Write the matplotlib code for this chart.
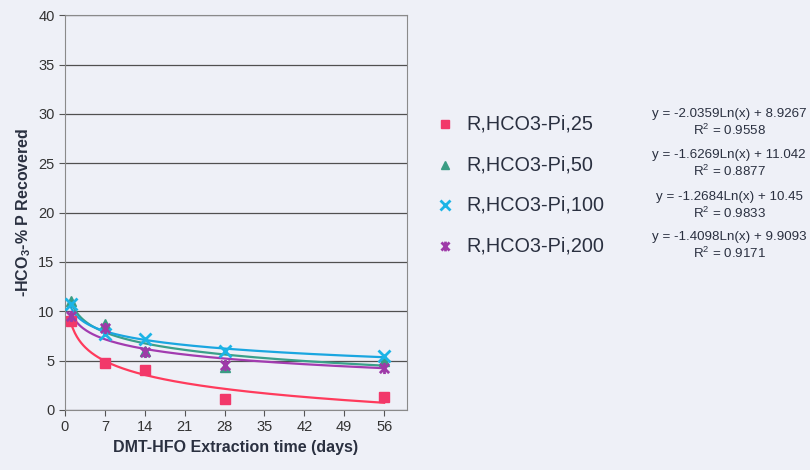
import numpy as np
import matplotlib.pyplot as plt
from matplotlib.lines import Line2D
from matplotlib.path import Path

plt.rcParams['font.family'] = ['Liberation Sans', 'DejaVu Sans']
plt.rcParams['mathtext.fontset'] = 'custom'
plt.rcParams['mathtext.rm'] = 'Liberation Sans'
plt.rcParams['mathtext.bf'] = 'Liberation Sans:bold'

# Extraktionszeit (Tage) und wiedergefundenes P (%)
days = [1, 7, 14, 28, 56]
p25 = [9.0, 4.8, 4.1, 1.1, 1.3]
p50 = [11.0, 8.7, 6.0, 4.4, 5.0]
p100 = [10.7, 7.7, 7.2, 6.0, 5.5]
p200 = [9.5, 8.3, 5.9, 4.6, 4.3]

labels = ['R,HCO3-Pi,25', 'R,HCO3-Pi,50', 'R,HCO3-Pi,100', 'R,HCO3-Pi,200']

# log. Trendlinien: y = a*ln(x) + b
slope = [-2.0359, -1.6269, -1.2684, -1.4098]
intercept = [8.9267, 11.042, 10.45, 9.9093]
r2 = ['0.9558', '0.8877', '0.9833', '0.9171']
eq_text = ['-2.0359Ln(x) + 8.9267', '-1.6269Ln(x) + 11.042',
           '-1.2684Ln(x) + 10.45', '-1.4098Ln(x) + 9.9093']

# Stern-Marker (x mit senkrechtem Strich)
star = Path([(-1, -1), (1, 1), (-1, 1), (1, -1), (0, -1.2), (0, 1.2)],
            [Path.MOVETO, Path.LINETO, Path.MOVETO, Path.LINETO, Path.MOVETO, Path.LINETO])

series = [p25, p50, p100, p200]
colors = ['#f2386a', '#3a9c84', '#1cb4e6', '#9e3aa8']
line_colors = ['#ff3b5c', '#3aa08a', '#1aa6e0', '#a23cb0']
markers = ['s', '^', 'x', star]
msizes = [7, 7, 8, 8]

bg = '#eef0f7'
txt = '#2a3040'
fig = plt.figure(figsize=(8.1, 4.7), dpi=100, facecolor=bg)
ax = fig.add_axes([0.0802, 0.1277, 0.4222, 0.840], facecolor=bg)

xfit = np.linspace(1, 56, 300)
for i in range(4):
    ax.plot(xfit, slope[i] * np.log(xfit) + intercept[i], color=line_colors[i], lw=1.6, zorder=2)
for i in range(4):
    ax.plot(days, series[i], ls='none', marker=markers[i], ms=msizes[i],
            color=colors[i], mec=colors[i], mew=2 if i >= 2 else 1, zorder=3)

ax.set_xlim(0, 60)
ax.set_ylim(0, 40)
ax.set_xticks(range(0, 57, 7))
ax.set_yticks(range(0, 41, 5))
ax.yaxis.grid(True, color='#505050', lw=0.9)
ax.set_axisbelow(True)
for s in ax.spines.values():
    s.set_color('#8a8a8a')
ax.tick_params(colors='#555555', labelcolor='#333333', labelsize=10.5, length=4)
ax.set_xlabel('DMT-HFO Extraction time (days)', fontsize=11.5, fontweight='bold', color=txt)
ax.set_ylabel(r'-HCO$_\mathbf{3}$-% P Recovered', fontsize=11.5, fontweight='bold', color=txt)

# Legende und Gleichungen
leg_y = [124, 165, 205, 246]
for i in range(4):
    yf = 1 - leg_y[i] / 470
    fig.add_artist(Line2D([445 / 810], [yf], transform=fig.transFigure, ls='none',
                          marker=markers[i], ms=msizes[i] - 1, color=colors[i],
                          mec=colors[i], mew=2 if i >= 2 else 1))
    fig.text(466 / 810, yf, labels[i], ha='left', va='center', fontsize=14.3, color=txt)

eq_y = [123, 164, 206, 246]
for i in range(4):
    fig.text(729 / 810, 1 - eq_y[i] / 470,
             'y = ' + eq_text[i] + '\n' + r'R$^2$ = ' + r2[i],
             ha='center', va='center', fontsize=9.6, color=txt, linespacing=1.25)

fig.savefig('out.png', dpi=100, facecolor=bg)
